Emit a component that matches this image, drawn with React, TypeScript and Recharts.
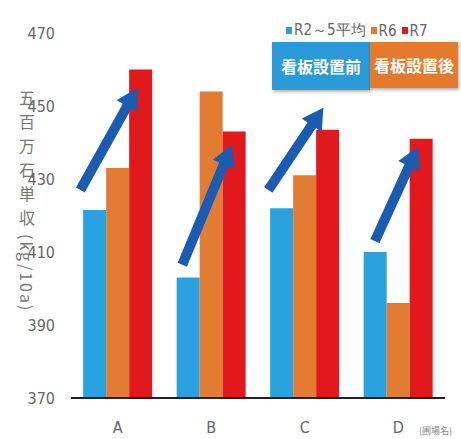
import React from "react"
import { BarChart, Bar, XAxis, YAxis, ReferenceLine } from "recharts"

// 圃場ごとの単収
const fields = ["A", "B", "C", "D"]
const beforeAvg = [421.5, 403, 422, 410]
const r6Values = [433, 454, 431, 396]
const r7Values = [460, 443, 443.5, 441]
const yTicks = [370, 390, 410, 430, 450, 470]

// 矢印 (x: 圃場位置 0-4, y: 単収)
const arrowFromX = [0.1, 1.19, 2.11, 3.25]
const arrowFromY = [427, 406.5, 427, 413]
const arrowToX = [0.71, 1.72, 2.7, 3.71]
const arrowToY = [455, 439.3, 449.5, 438.8]

const legendItems = [
    { label: "R2～5平均", key: "before" },
    { label: "R6", key: "r6" },
    { label: "R7", key: "r7" },
]

const data = fields.map((f, i) => ({
    name: f,
    slot: i + 0.5,
    before: beforeAvg[i],
    r6: r6Values[i],
    r7: r7Values[i],
}))

const COLORS: Record<string, string> = { before: "#2aa2df", r6: "#e27c32", r7: "#e1191d", arrow: "#1b5cb3" }
const NARROW = "'Liberation Sans Narrow', 'DejaVu Sans Condensed', sans-serif"
const CJK = "'Noto Sans CJK JP', sans-serif"

const Arrow = (props: any) => {
    const { x1, y1, x2, y2 } = props
    const dx = x2 - x1
    const dy = y2 - y1
    const len = Math.sqrt(dx * dx + dy * dy)
    const ux = dx / len
    const uy = dy / len
    const px = -uy
    const py = ux
    const shaft = 5
    const headLen = 21
    const headW = 12
    const bx = x2 - ux * headLen
    const by = y2 - uy * headLen
    const pts = [
        [x1 + px * shaft, y1 + py * shaft],
        [bx + px * shaft, by + py * shaft],
        [bx + px * headW, by + py * headW],
        [x2, y2],
        [bx - px * headW, by - py * headW],
        [bx - px * shaft, by - py * shaft],
        [x1 - px * shaft, y1 - py * shaft],
    ]
    return <polygon points={pts.map((p) => p.join(",")).join(" ")} fill={COLORS.arrow} />
}

const YLabel = () => (
    <text
        x={27}
        y={90}
        fill="#777"
        fontSize={16}
        fontFamily={CJK}
        textAnchor="start"
        style={{ writingMode: "vertical-rl" } as any}
    >
        <tspan letterSpacing={8}>五百万石単収</tspan>
        <tspan letterSpacing={2}>(kg/10a)</tspan>
    </text>
)

const boxStyle: React.CSSProperties = {
    position: "absolute",
    top: 42,
    color: "#fff",
    fontWeight: "bold",
    fontSize: 16,
    fontFamily: CJK,
    display: "flex",
    alignItems: "center",
    justifyContent: "center",
    boxShadow: "1px 2px 3px rgba(0,0,0,0.3)",
}

export default function App() {
    return (
        <div style={{ position: "absolute", left: 0, top: 0, width: 461, height: 439, background: "#fff" }}>
            <BarChart
                width={461}
                height={439}
                data={data}
                margin={{ top: 33, right: 16, bottom: 0, left: 0 }}
                barCategoryGap="13%"
                barGap={0}
            >
                <XAxis
                    dataKey="name"
                    height={41}
                    tickLine={false}
                    axisLine={{ stroke: "#222", strokeWidth: 2 }}
                    tick={{ fill: "#666", fontSize: 16, fontFamily: NARROW }}
                    tickMargin={18}
                />
                <XAxis xAxisId="pos" dataKey="slot" type="number" domain={[0, 4]} allowDataOverflow hide />
                <YAxis
                    width={71}
                    domain={[370, 470]}
                    ticks={yTicks}
                    axisLine={false}
                    tickLine={false}
                    tickMargin={10}
                    tick={{ fill: "#666", fontSize: 16, fontFamily: NARROW }}
                    label={<YLabel />}
                />
                <Bar dataKey="before" fill={COLORS.before} isAnimationActive={false} />
                <Bar dataKey="r6" fill={COLORS.r6} isAnimationActive={false} />
                <Bar dataKey="r7" fill={COLORS.r7} isAnimationActive={false} />
                {fields.map((f, i) => (
                    <ReferenceLine
                        key={f}
                        xAxisId="pos"
                        segment={[
                            { x: arrowFromX[i], y: arrowFromY[i] },
                            { x: arrowToX[i], y: arrowToY[i] },
                        ]}
                        shape={<Arrow />}
                    />
                ))}
            </BarChart>
            <div
                style={{
                    position: "absolute",
                    left: 286,
                    top: 21,
                    fontFamily: NARROW,
                    fontSize: 15,
                    color: "#666",
                    display: "flex",
                    alignItems: "center",
                    gap: 5,
                }}
            >
                {legendItems.map((it) => (
                    <span key={it.key} style={{ display: "flex", alignItems: "center" }}>
                        <span style={{ width: 6, height: 7, background: COLORS[it.key], marginRight: 2 }} />
                        {it.label}
                    </span>
                ))}
            </div>
            <div style={{ ...boxStyle, left: 272, width: 98, height: 48, background: "#2a9ad8" }}>看板設置前</div>
            <div style={{ ...boxStyle, left: 370, width: 88, height: 46, background: "#e57a2c" }}>看板設置後</div>
            <div style={{ position: "absolute", left: 419, top: 424, fontSize: 9, color: "#888", fontFamily: CJK }}>
                (圃場名)
            </div>
        </div>
    )
}
